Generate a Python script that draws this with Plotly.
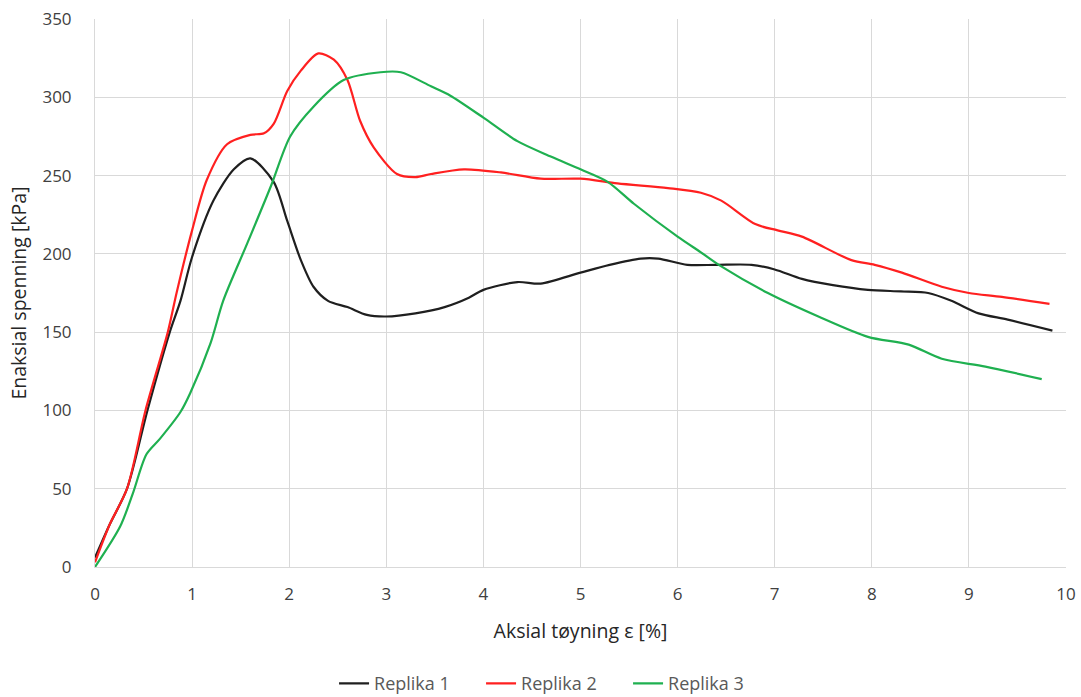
import plotly.graph_objects as go

# Replika 1 (black)
x1 = [0, 0.15, 0.33, 0.54, 0.77, 0.88, 1.0, 1.22, 1.43, 1.6, 1.84, 1.98, 2.12, 2.25, 2.4, 2.6, 2.8, 3.0, 3.3, 3.6, 3.85, 4.0, 4.35, 4.59, 5.0, 5.3, 5.62, 5.8, 6.1, 6.4, 6.76, 7.0, 7.28, 7.6, 7.96, 8.3, 8.58, 8.82, 9.1, 9.4, 9.86]
y1 = [6, 27, 50, 100, 150, 170, 198, 234, 254, 261, 246, 221, 196, 179, 170, 166, 161, 160, 162, 166, 172, 177, 182, 181, 188, 193, 197, 197, 193, 193, 193, 190, 184, 180, 177, 176, 175, 170, 162, 158, 151]

# Replika 2 (red)
x2 = [0, 0.15, 0.33, 0.52, 0.75, 0.84, 1.0, 1.15, 1.36, 1.6, 1.74, 1.84, 1.98, 2.12, 2.3, 2.46, 2.6, 2.73, 2.87, 3.11, 3.3, 3.46, 3.8, 4.18, 4.59, 5.0, 5.38, 5.9, 6.24, 6.45, 6.8, 7.03, 7.28, 7.79, 8.03, 8.31, 8.72, 9.0, 9.34, 9.83]
y2 = [3, 27, 50, 100, 150, 175, 215, 247, 270, 276, 277, 283, 304, 317, 328, 324, 311, 285, 268, 251, 249, 251, 254, 252, 248, 248, 245, 242, 239, 234, 219, 215, 211, 196, 193, 188, 179, 175, 172.5, 168]

# Replika 3 (green)
x3 = [0, 0.26, 0.39, 0.53, 0.67, 0.88, 0.98, 1.19, 1.32, 1.57, 1.81, 2.01, 2.25, 2.56, 2.94, 3.15, 3.46, 3.66, 4.0, 4.35, 4.7, 5.0, 5.28, 5.55, 6.0, 6.24, 6.45, 6.93, 7.45, 7.96, 8.38, 8.72, 9.17, 9.75]
y3 = [0, 26, 47, 72, 82, 99, 111, 143, 170, 207, 243, 275, 294, 311, 316, 316, 307, 301, 287, 272, 262, 254, 246, 232, 211, 201, 192, 175, 160, 147, 142, 133, 128, 120]

names = ["Replika 1", "Replika 2", "Replika 3"]
colors = ["#1f1f1f", "#ff2020", "#1fb050"]

fig = go.Figure()
for xs, ys, n, c in zip([x1, x2, x3], [y1, y2, y3], names, colors):
    fig.add_trace(go.Scatter(x=xs, y=ys, name=n, mode="lines",
                             line=dict(color=c, width=2.2, shape="spline", smoothing=0.8)))

font_family = "Open Sans, Liberation Sans, sans-serif"
fig.update_layout(
    width=1081, height=697,
    margin=dict(l=95, r=15, t=19, b=130),
    plot_bgcolor="white", paper_bgcolor="white",
    font=dict(family=font_family, size=15, color="#595959"),
    showlegend=True,
    legend=dict(orientation="h", xref="container", yref="container",
                x=0.513, xanchor="center", y=0.019, yanchor="middle",
                font=dict(size=18, color="#595959"), entrywidth=102, entrywidthmode="pixels"),
    xaxis=dict(range=[0, 10], dtick=1, showgrid=True, gridcolor="#d9d9d9", gridwidth=1,
               showline=True, linecolor="#d9d9d9", linewidth=1, zeroline=False,
               ticks="", tickfont=dict(size=17, color="#404040"), automargin=False,
               ticklabelstandoff=12,
               title=dict(text="Aksial tøyning ε [%]", font=dict(size=19.5, color="#262626"), standoff=19)),
    yaxis=dict(range=[0, 350], dtick=50, showgrid=True, gridcolor="#d9d9d9", gridwidth=1,
               showline=True, linecolor="#d9d9d9", linewidth=1, zeroline=False,
               ticks="", tickfont=dict(size=17, color="#404040"), automargin=False,
               ticklabelstandoff=19,
               title=dict(text="Enaksial spenning [kPa]", font=dict(size=19.5, color="#262626"), standoff=10)),
)

fig.write_html("out.html", config={"displayModeBar": False},
               post_script="document.body.style.margin='0';document.body.style.overflow='hidden';")
